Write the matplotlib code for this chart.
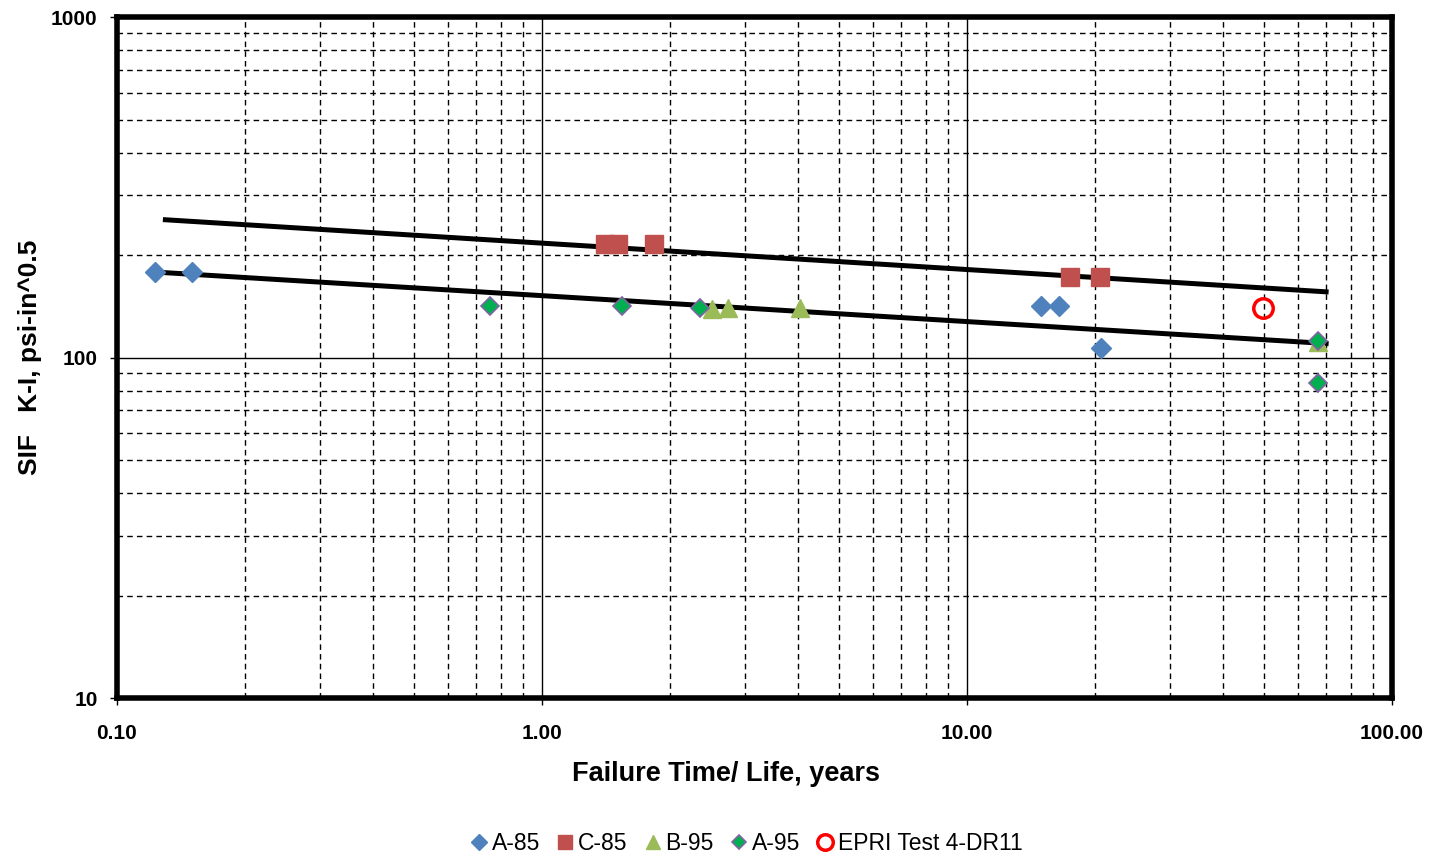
import matplotlib
matplotlib.use("Agg")
import matplotlib.pyplot as plt
from matplotlib.ticker import FixedLocator, NullFormatter, FixedFormatter

plt.rcParams["font.family"] = ["Liberation Sans", "DejaVu Sans"]

# data (years, psi-in^0.5)
a85_x = [0.123, 0.150, 14.9, 16.5, 20.7]
a85_y = [179, 179, 142, 142, 107]

c85_x = [1.41, 1.51, 1.84, 17.5, 20.6]
c85_y = [216, 216, 216, 173, 173]

b95_x = [2.51, 2.74, 4.05, 67.0]
b95_y = [139, 140, 140, 111]

a95_x = [0.754, 1.54, 2.35, 67.0, 67.0]
a95_y = [142, 142, 140, 112, 84.4]

epri_x = [49.7]
epri_y = [140]

# trend lines (endpoints)
upper_x = [0.13, 70.0]
upper_y = [254, 156]
lower_x = [0.126, 70.0]
lower_y = [178, 110]

x_ticks = [0.1, 1, 10, 100]
x_labels = ["0.10", "1.00", "10.00", "100.00"]
y_ticks = [10, 100, 1000]
y_labels = ["10", "100", "1000"]

fig = plt.figure(figsize=(14.35, 8.57), dpi=100)
ax = fig.add_axes([0.0815, 0.1855, 0.8885, 0.7945])
ax.set_xscale("log")
ax.set_yscale("log")
ax.set_xlim(0.1, 100)
ax.set_ylim(10, 1000)

# grid
minor = [m * 10.0 ** e for e in range(-1, 3) for m in range(2, 10)]
ax.xaxis.set_minor_locator(FixedLocator([v for v in minor if 0.1 < v < 100]))
ax.yaxis.set_minor_locator(FixedLocator([v * 100 for v in minor if 0.1 < v < 10]))
ax.xaxis.set_minor_formatter(NullFormatter())
ax.yaxis.set_minor_formatter(NullFormatter())
ax.grid(which="major", color="black", lw=1.0, ls="-")
ax.grid(which="minor", color="black", lw=1.0, ls=(0, (4, 3)))
ax.set_axisbelow(True)

ax.xaxis.set_major_locator(FixedLocator(x_ticks))
ax.xaxis.set_major_formatter(FixedFormatter(x_labels))
ax.yaxis.set_major_locator(FixedLocator(y_ticks))
ax.yaxis.set_major_formatter(FixedFormatter(y_labels))
ax.tick_params(which="major", length=5, width=1, labelsize=15)
ax.tick_params(axis="x", pad=14)
ax.tick_params(axis="y", pad=9)
ax.tick_params(which="minor", length=0)
for lab in ax.get_xticklabels() + ax.get_yticklabels():
    lab.set_fontweight("bold")

for s in ax.spines.values():
    s.set_linewidth(4)

ax.plot(upper_x, upper_y, color="black", lw=3.6, zorder=3)
ax.plot(lower_x, lower_y, color="black", lw=3.6, zorder=3)

ax.plot(a85_x, a85_y, "D", color="#4F81BD", ms=10, mec="#4F81BD", ls="none",
        label="A-85", zorder=4)
ax.plot(c85_x, c85_y, "s", color="#C0504D", ms=12.5, mec="#C0504D", ls="none",
        label="C-85", zorder=4)
ax.plot(b95_x, b95_y, "^", color="#9BBB59", ms=12.5, mec="#9BBB59", ls="none",
        label="B-95", zorder=4)
ax.plot(a95_x, a95_y, "D", color="#00B050", ms=9, mec="#8064A2", mew=1.2,
        ls="none", label="A-95", zorder=5)
ax.plot(epri_x, epri_y, "o", mfc="none", mec="red", ms=14, mew=2.5,
        ls="none", label="EPRI Test 4-DR11", zorder=5)

ax.set_xlabel("Failure Time/ Life, years", fontsize=19.5, fontweight="bold")
ax.xaxis.set_label_coords(0.478, -0.092)
ax.set_ylabel("SIF   K-I, psi-in^0.5", fontsize=19, fontweight="bold")
ax.yaxis.set_label_coords(-0.059, 0.5)

fig.legend(loc="center", bbox_to_anchor=(0.52, 0.016), ncol=5, frameon=False,
           fontsize=16.5, handlelength=0.8, handletextpad=0.15,
           columnspacing=0.7, markerscale=0.8)

fig.savefig("out.png", dpi=100)
